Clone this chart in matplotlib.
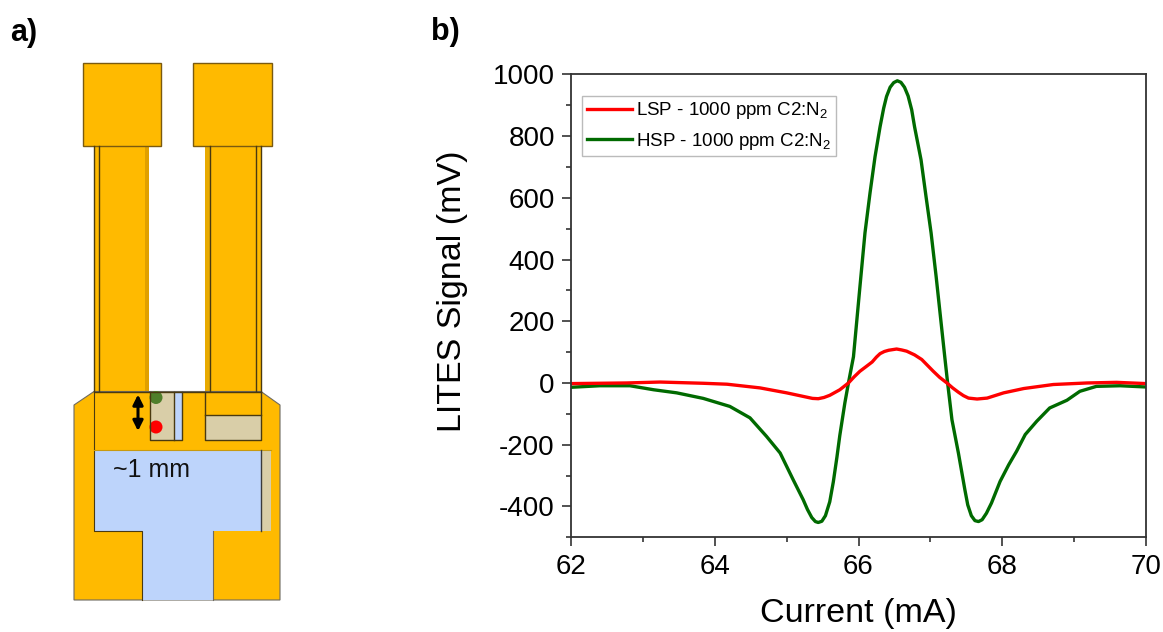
import matplotlib
matplotlib.use("Agg")
import matplotlib.pyplot as plt
from matplotlib.patches import Polygon, Rectangle, Circle
from matplotlib.ticker import MultipleLocator, FixedLocator

plt.rcParams['font.family'] = ['Liberation Sans', 'DejaVu Sans']
plt.rcParams['mathtext.fontset'] = 'custom'
plt.rcParams['mathtext.rm'] = 'Liberation Sans'
plt.rcParams['mathtext.default'] = 'regular'
plt.rcParams['axes.unicode_minus'] = False

# ----------------------
# Data
# ----------------------
lsp_current = [62, 62.77, 63.24, 63.84, 64.17, 64.63, 65, 65.28, 65.36, 65.44, 65.52, 65.6, 65.67,
               65.74, 65.8, 65.86, 65.94, 66.02, 66.1, 66.19, 66.25, 66.3, 66.36, 66.42, 66.53,
               66.6, 66.67, 66.78, 66.88, 66.96, 67.04, 67.13, 67.23, 67.31, 67.39, 67.46, 67.53,
               67.65, 67.79, 68.02, 68.3, 68.71, 69.18, 69.59, 70]
lsp_signal = [-2, 0, 3, -1, -4, -16, -32, -46, -50, -51, -47, -40, -31,
              -22, -11, 0, 20, 38, 52, 68, 84, 95, 102, 106, 110,
              107, 103, 91, 76, 57, 38, 18, 0, -16, -30, -41, -49,
              -52, -49, -32, -18, -5, 0, 2, -2]

hsp_current = [62, 62.4, 62.82, 63.15, 63.47, 63.84, 64.21, 64.49, 64.72, 64.91, 65.09, 65.23,
               65.29, 65.35, 65.4, 65.44, 65.49, 65.54, 65.6, 65.65, 65.7, 65.74, 65.81, 65.86,
               65.93, 66.02, 66.09, 66.16, 66.23, 66.3, 66.35, 66.39, 66.44, 66.49, 66.54, 66.59,
               66.64, 66.69, 66.74, 66.78, 66.87, 66.94, 67.01, 67.08, 67.2, 67.24, 67.3, 67.39,
               67.48, 67.52, 67.57, 67.62, 67.67, 67.72, 67.78, 67.85, 67.97, 68.09, 68.2, 68.32,
               68.48, 68.66, 68.9, 69.08, 69.31, 69.64, 70]
hsp_signal = [-14, -9, -9, -22, -32, -50, -76, -113, -173, -227, -313, -378,
              -410, -436, -449, -452, -448, -430, -385, -320, -240, -170, -65, 0,
              85, 312, 486, 615, 733, 830, 890, 928, 958, 973, 979, 974,
              958, 930, 885, 830, 723, 603, 486, 345, 85, 0, -119, -227,
              -346, -395, -430, -446, -449, -443, -422, -389, -319, -265, -221, -167,
              -124, -81, -56, -27, -11, -9, -13]

legend_labels = ['LSP - 1000 ppm C2:N$_2$', 'HSP - 1000 ppm C2:N$_2$']
x_major = [62, 64, 66, 68, 70]
y_major = [-400, -200, 0, 200, 400, 600, 800, 1000]

# Schematic outlines, in image pixels
pads = [(83, 63, 78, 83), (193, 63, 79, 83)]
arms = [(94, 146, 55, 245), (205, 146, 56, 245)]
arm_lines = [94, 98.5, 210, 256, 261]
base_outline = [(74, 405), (94, 391.5), (261, 391.5), (280, 405), (280, 600), (74, 600)]
blue_region = [(94, 450), (271, 450), (271, 531), (213, 531), (213, 600),
               (142, 600), (142, 531), (94, 531)]

orange = '#FFBA00'
blue = '#BDD4FB'
beige = '#D9CEA8'
edge = '#4A3A10'

fig = plt.figure(figsize=(11.63, 6.32), dpi=100)

# ----------------------
# Panel a: device schematic
# ----------------------
sk = fig.add_axes([0, 0, 1, 1])
sk.set_xlim(0, 1163)
sk.set_ylim(632, 0)
sk.axis('off')

for x, y, w, h in arms:
    sk.add_patch(Rectangle((x, y), w, h, fc=orange, ec='none'))
sk.add_patch(Rectangle((144.5, 146), 4.5, 245, fc='#E0A000', ec='none'))
sk.add_patch(Rectangle((205, 146), 5, 245, fc='#E8AA00', ec='none'))
for x in arm_lines:
    sk.plot([x, x], [146, 391], color=edge, lw=1.0)
for x, y, w, h in pads:
    sk.add_patch(Rectangle((x, y), w, h, fc=orange, ec='#7A5A10', lw=1.0))

sk.add_patch(Polygon(base_outline, closed=True, fc=orange, ec='#6E6A60', lw=0.8))
sk.add_patch(Polygon(blue_region, closed=True, fc=blue, ec='none'))
sk.plot([142, 142, 94, 94], [600, 531, 531, 391.5], color=edge, lw=0.8)
sk.plot([213, 213], [531, 600], color='#6E6A60', lw=0.8)
sk.plot([94, 261], [391.5, 391.5], color=edge, lw=1.0)
sk.plot([94, 271], [450, 450], color='#C89A10', lw=0.8)

# notches and coated strips
sk.add_patch(Rectangle((260.5, 450), 10.5, 81, fc=beige, ec='none'))
sk.plot([260.5, 260.5], [450, 531], color='#3A3A3A', lw=1.0)
sk.add_patch(Rectangle((149.5, 391.5), 24.5, 48.5, fc=beige, ec='none'))
sk.add_patch(Rectangle((174, 391.5), 7.5, 48.5, fc=blue, ec='none'))
sk.plot([149.5, 149.5, 181.5, 181.5], [391.5, 440, 440, 391.5], color=edge, lw=1.0)
sk.plot([174, 174], [391.5, 440], color=edge, lw=1.0)
sk.add_patch(Rectangle((205, 415), 56, 25, fc=beige, ec='none'))
sk.plot([205, 205, 261, 261], [391.5, 440, 440, 391.5], color=edge, lw=1.0)
sk.plot([205, 261], [415, 415], color=edge, lw=1.0)

sk.add_patch(Circle((156, 397.5), 6.5, fc='#4F7F2B', ec='none'))
sk.add_patch(Circle((156, 427), 6.5, fc='#FF0000', ec='none'))
sk.annotate('', xy=(138, 431), xytext=(138, 394.5),
            arrowprops=dict(arrowstyle='<|-|>', color='black', lw=2.2, mutation_scale=15,
                            shrinkA=0, shrinkB=0))
sk.text(113, 470, '~1 mm', fontsize=18, ha='left', va='center', color='#111111')

sk.text(10, 33, 'a)', fontsize=22, fontweight='bold', ha='left', va='center')
sk.text(431, 32, 'b)', fontsize=22, fontweight='bold', ha='left', va='center')

# ----------------------
# Panel b: LITES signal
# ----------------------
left, right, top, bottom = 571, 1146, 74.3, 537.3
ax = fig.add_axes([left / 1163, 1 - bottom / 632, (right - left) / 1163, (bottom - top) / 632])
ax.plot(hsp_current, hsp_signal, color='#006A00', lw=2.4, label=legend_labels[1])
ax.plot(lsp_current, lsp_signal, color='#FF0000', lw=2.4, label=legend_labels[0])

ax.set_xlim(62, 70)
ax.set_ylim(-500, 1000)
ax.xaxis.set_major_locator(FixedLocator(x_major))
ax.xaxis.set_minor_locator(MultipleLocator(1))
ax.yaxis.set_major_locator(FixedLocator(y_major))
ax.yaxis.set_minor_locator(MultipleLocator(100))
ax.tick_params(which='major', length=6.2, width=1.1, labelsize=20, color='#222222', pad=5.5)
ax.tick_params(which='minor', length=3.5, width=1.1, color='#222222')
for spine in ax.spines.values():
    spine.set_linewidth(1.3)
    spine.set_color('#333333')
ax.set_xlabel('Current (mA)', fontsize=24.5, va='center')
ax.set_ylabel('LITES Signal (mV)', fontsize=24.5, va='center')
ax.xaxis.set_label_coords(0.5, 1 - (613 - top) / (bottom - top))
ax.yaxis.set_label_coords((452 - left) / (right - left), 1 - (291 - top) / (bottom - top))

handles, labels = ax.get_legend_handles_labels()
leg = ax.legend(handles[::-1], labels[::-1], loc='upper left',
                bbox_to_anchor=((582 - left) / (right - left), 1 - (95.5 - top) / (bottom - top)),
                borderaxespad=0, fontsize=13.5, fancybox=False, edgecolor='#BBBBBB', framealpha=1,
                handlelength=2.4, handletextpad=0.25, labelspacing=0.5,
                borderpad=0.25)
leg.get_frame().set_linewidth(1.0)

fig.savefig("out.png", dpi=100)
